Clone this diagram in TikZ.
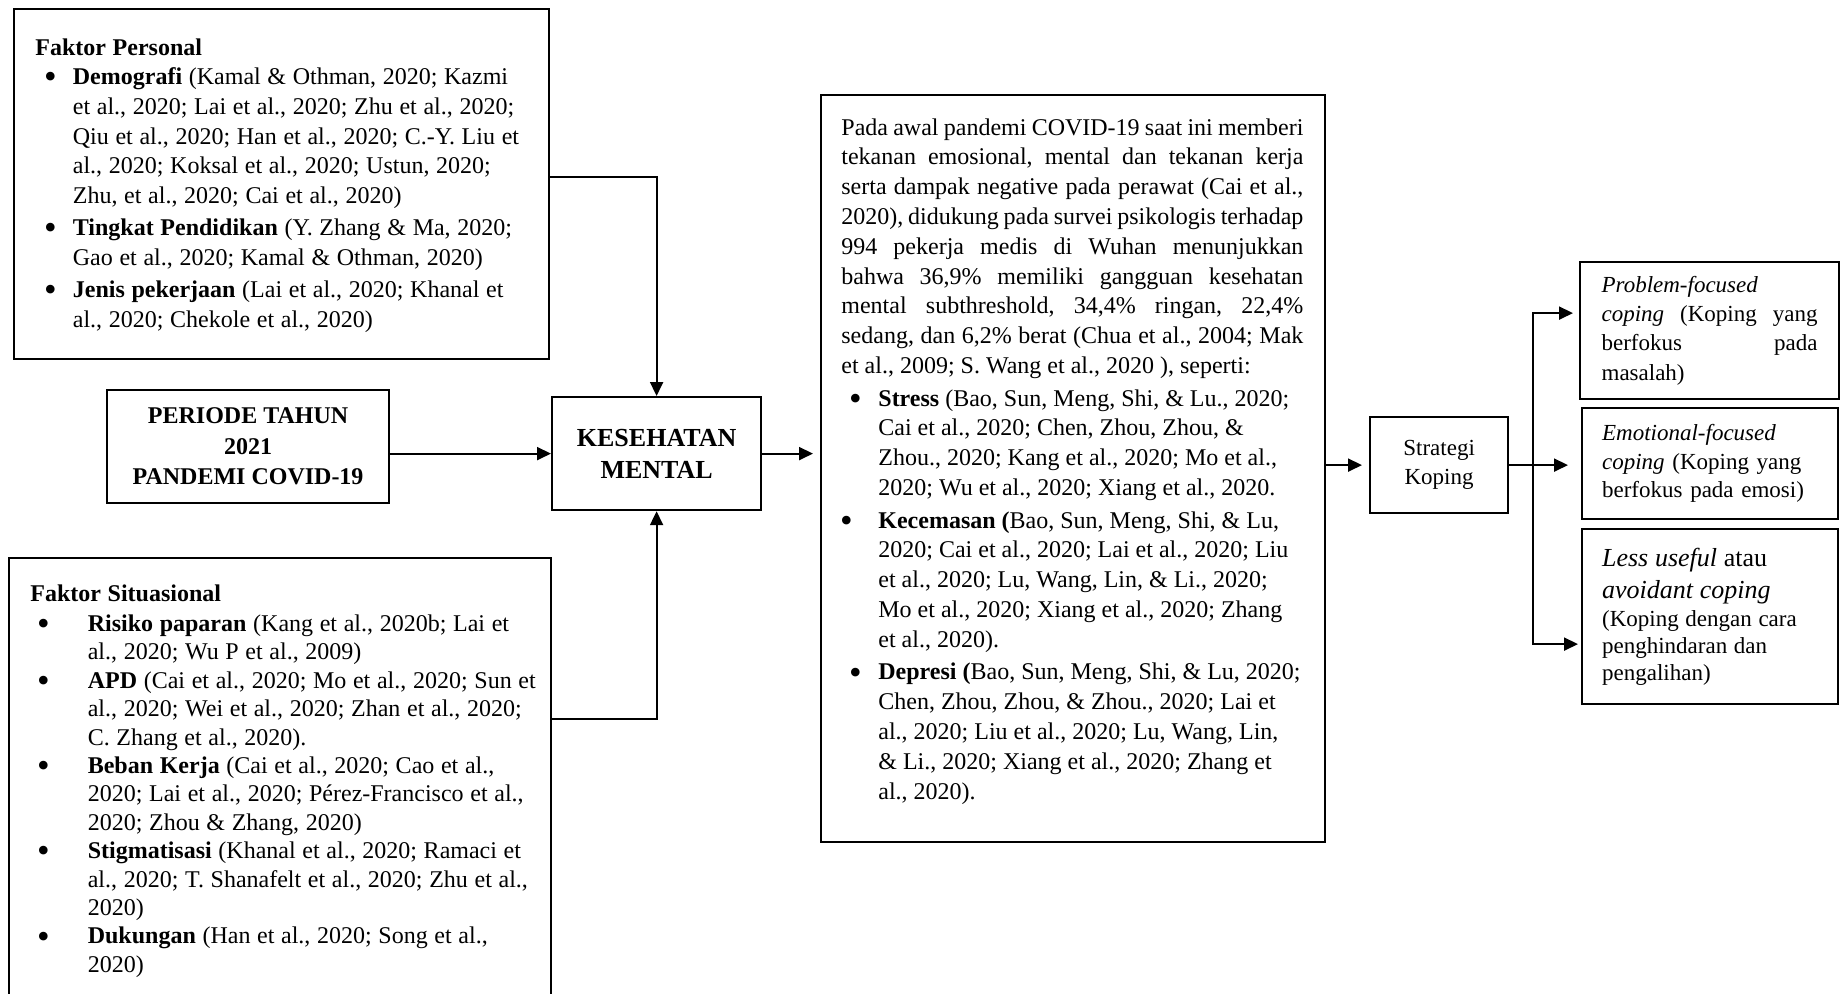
\documentclass[tikz,border=0pt]{standalone}
\usepackage{fontspec}
\usepackage{graphicx}
\setmainfont{Liberation Serif}
\usetikzlibrary{arrows.meta}
\frenchspacing
\newcommand{\bitem}[2]{\par\hangindent=#1\hangafter=1\noindent\hbox to #1{\hskip #2\raisebox{-2.1pt}{\scalebox{1.5}{\textbullet}}\hss}\ignorespaces}
\begin{document}
\begin{tikzpicture}[x=0.5pt,y=-0.5pt,
    box/.style={draw,line width=1.1pt,anchor=north west,inner sep=0pt},
    txt/.style={anchor=base west,inner sep=0pt},
    arr/.style={line width=1pt,-{Triangle[length=7pt,width=6.5pt]}}]
    \useasboundingbox (0,0) rectangle (1842,993);
    \node[box,minimum width=267.5pt,minimum height=175pt] (personal) at (13,8) {};
    \node[box,minimum width=271pt,minimum height=221pt] (situ) at (8,557) {};
    \node[box,minimum width=141pt,minimum height=56.5pt,align=center,
          font=\bfseries\fontsize{12pt}{15.25pt}\selectfont] (periode) at (106,389)
          {PERIODE TAHUN\\2021\\PANDEMI COVID-19};
    \node[box,minimum width=104.5pt,minimum height=56.5pt,align=center,
          font=\bfseries\fontsize{13pt}{16pt}\selectfont] (kes) at (551,396)
          {KESEHATAN\\MENTAL};
    \node[box,minimum width=252pt,minimum height=373.5pt] (main) at (820,94) {};
    \node[box,minimum width=69pt,minimum height=48pt,align=center,
          font=\fontsize{11.5pt}{14.5pt}\selectfont] (strat) at (1369,416)
          {Strategi\\Koping};
    \node[box,minimum width=129.5pt,minimum height=68.5pt,text width=108pt,align=justify,
          font=\fontsize{11.5pt}{14.6pt}\selectfont] (prob) at (1579,261)
          {\textit{Problem-focused}\newline \textit{coping} (Koping yang\linebreak berfokus pada\linebreak masalah)};
    \node[box,minimum width=128pt,minimum height=55.5pt,text width=108pt,align=left,
          font=\fontsize{11.5pt}{14.3pt}\selectfont] (emo) at (1581,407)
          {\textit{Emotional-focused}\newline \textit{coping} (Koping yang\newline berfokus pada emosi)};
    \node[box,minimum width=128pt,minimum height=87.5pt,text width=108pt,align=left] (less) at (1581,528)
          {\fontsize{13pt}{16pt}\selectfont\textit{Less useful} atau\newline \textit{avoidant coping}\par\vspace{1pt}%
           \fontsize{11.5pt}{13.3pt}\selectfont (Koping dengan cara\newline penghindaran dan\newline pengalihan)\par};

    \node[txt,text width=250pt,align=left] (personaltext) at (35,55)
        {\fontsize{12pt}{14.85pt}\selectfont\setlength{\parskip}{1.2pt}%
        \textbf{Faktor Personal}\par\vspace{-1.2pt}
        \bitem{18.75pt}{4.4pt}\textbf{Demografi} (Kamal \& Othman, 2020; Kazmi\newline et al., 2020; Lai et al., 2020; Zhu et al., 2020;\newline Qiu et al., 2020; Han et al., 2020; C.-Y. Liu et\newline al., 2020; Koksal et al., 2020; Ustun, 2020;\newline Zhu, et al., 2020; Cai et al., 2020)
        \bitem{18.75pt}{4.4pt}\textbf{Tingkat Pendidikan} (Y. Zhang \& Ma, 2020;\newline Gao et al., 2020; Kamal \& Othman, 2020)
        \bitem{18.75pt}{4.4pt}\textbf{Jenis pekerjaan} (Lai et al., 2020; Khanal et\newline al., 2020; Chekole et al., 2020)\par};
    \node[txt,text width=255pt,align=left] (situtext) at (30,601)
        {\fontsize{12pt}{14.2pt}\selectfont
        \textbf{Faktor Situasional}\par\vspace{1pt}
        \bitem{28.7pt}{3.4pt}\textbf{Risiko paparan} (Kang et al., 2020b; Lai et\newline al., 2020; Wu P et al., 2009)
        \bitem{28.7pt}{3.4pt}\textbf{APD} (Cai et al., 2020; Mo et al., 2020; Sun et\newline al., 2020; Wei et al., 2020; Zhan et al., 2020;\newline C. Zhang et al., 2020).
        \bitem{28.7pt}{3.4pt}\textbf{Beban Kerja} (Cai et al., 2020; Cao et al.,\newline 2020; Lai et al., 2020; Pérez-Francisco et al.,\newline 2020; Zhou \& Zhang, 2020)
        \bitem{28.7pt}{3.4pt}\textbf{Stigmatisasi} (Khanal et al., 2020; Ramaci et\newline al., 2020; T. Shanafelt et al., 2020; Zhu et al.,\newline 2020)
        \bitem{28.7pt}{3.4pt}\textbf{Dukungan} (Han et al., 2020; Song et al.,\newline 2020)\par};
    \node[txt,text width=231pt,align=justify] (maintext) at (841,135)
        {\fontsize{12pt}{14.9pt}\selectfont\setlength{\parskip}{1.4pt}%
        Pada awal pandemi COVID-19 saat ini memberi\linebreak tekanan emosional, mental dan tekanan kerja\linebreak serta dampak negative pada perawat (Cai et al.,\linebreak 2020), didukung pada survei psikologis terhadap\linebreak 994 pekerja medis di Wuhan menunjukkan\linebreak bahwa 36,9\% memiliki gangguan kesehatan\linebreak mental subthreshold, 34,4\% ringan, 22,4\%\linebreak sedang, dan 6,2\% berat (Chua et al., 2004; Mak\linebreak et al., 2009; S. Wang et al., 2020 ), seperti:\par
        {\raggedright
        \bitem{18.5pt}{3.9pt}\textbf{Stress} (Bao, Sun, Meng, Shi, \& Lu., 2020;\newline Cai et al., 2020; Chen, Zhou, Zhou, \&\newline Zhou., 2020; Kang et al., 2020; Mo et al.,\newline 2020; Wu et al., 2020; Xiang et al., 2020.
        \bitem{18.5pt}{-0.6pt}\textbf{Kecemasan (}Bao, Sun, Meng, Shi, \& Lu,\newline 2020; Cai et al., 2020; Lai et al., 2020; Liu\newline et al., 2020; Lu, Wang, Lin, \& Li., 2020;\newline Mo et al., 2020; Xiang et al., 2020; Zhang\newline et al., 2020).
        \bitem{18.5pt}{3.9pt}\textbf{Depresi (}Bao, Sun, Meng, Shi, \& Lu, 2020;\newline Chen, Zhou, Zhou, \& Zhou., 2020; Lai et\newline al., 2020; Liu et al., 2020; Lu, Wang, Lin,\newline \& Li., 2020; Xiang et al., 2020; Zhang et\newline al., 2020).\par}};

    \draw[arr] ([yshift=3.5pt]personal.east) -| (kes.north);
    \draw[arr] ([yshift=30pt]situ.east) -| (kes.south);
    \draw[arr] (periode.east |- kes.west) -- (kes.west);
    \draw[arr,shorten >=3.5pt] (kes.east) -- (kes.east -| main.west);
    \draw[arr,shorten >=3.5pt] (main.east |- strat.west) -- (strat.west);
    \draw[arr,shorten >=6.5pt] (strat.east) -- (strat.east -| emo.west);
    \coordinate (fork) at ([xshift=12pt]strat.east);
    \foreach \n/\s/\g in {prob/8.75pt/3pt, less/-13.75pt/1.5pt}
        \draw[arr,shorten >=\g] (fork) |- ([yshift=\s]\n.west);
\end{tikzpicture}
\end{document}
